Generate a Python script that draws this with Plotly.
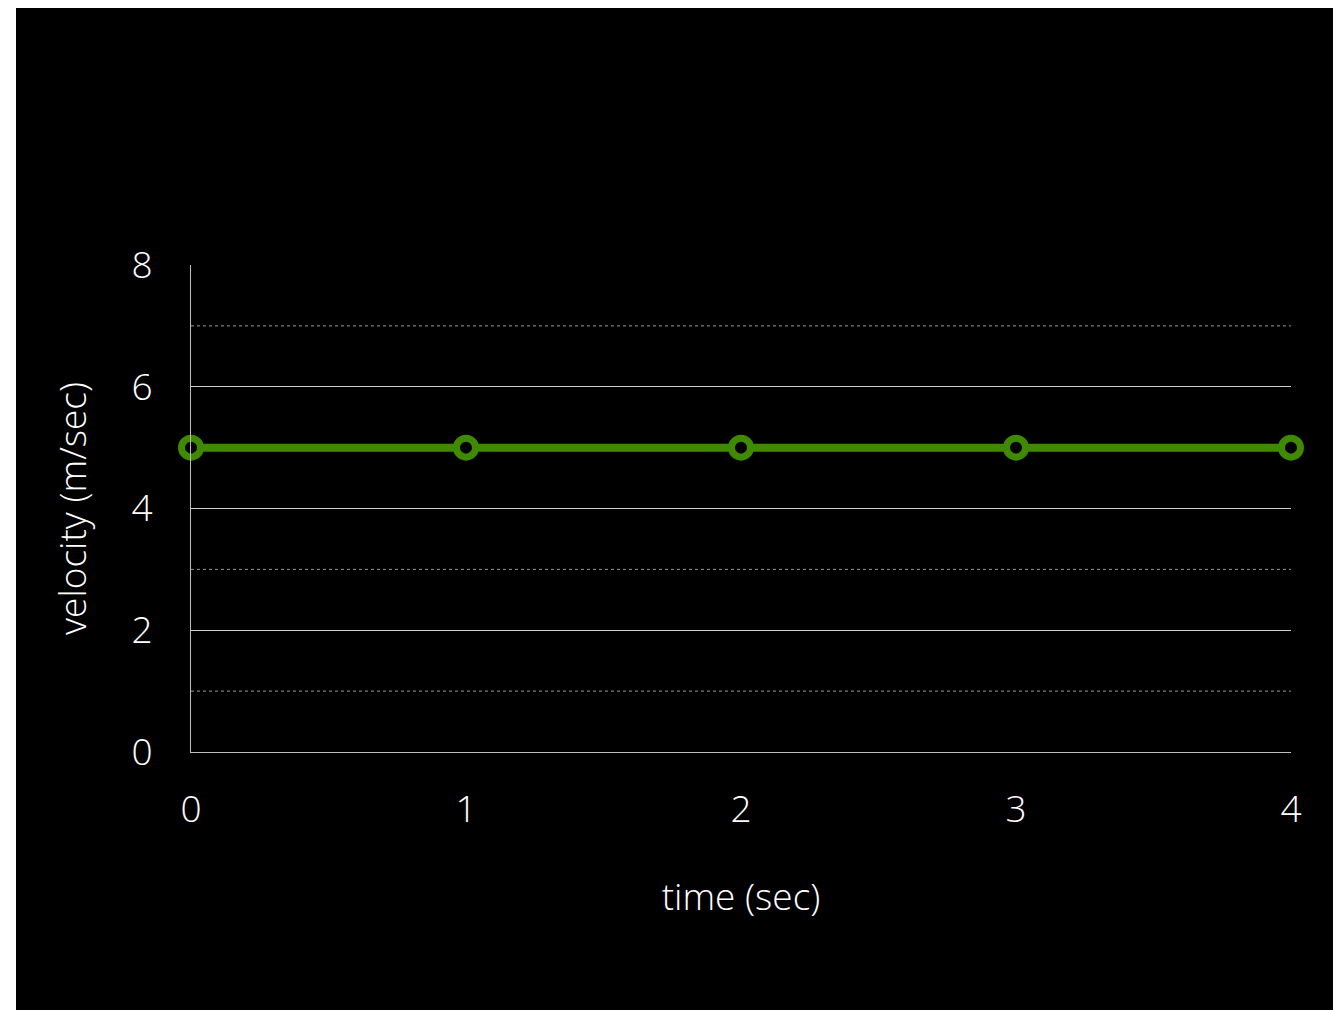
import plotly.graph_objects as go

time_sec = [0, 1, 2, 3, 4]
velocity = [5, 5, 5, 5, 5]
x_ticks = [0, 1, 2, 3, 4]
y_major = [0, 2, 4, 6, 8]
y_minor = [1, 3, 5, 7]

GREEN = "#3f8a00"
# page has an 8px body margin; figure sized to fit the window
W, H = 1333, 1002
L, R, T, B = 183, 50, 257, 258
pw = W - L - R
ph = H - T - B

fig = go.Figure()
fig.add_trace(go.Scatter(
    x=time_sec, y=velocity, mode="lines+markers",
    line=dict(color=GREEN, width=8),
    marker=dict(symbol="circle", size=19, color="black",
                line=dict(color=GREEN, width=7)),
    cliponaxis=False, showlegend=False,
))

font = dict(family="'Open Sans', 'Noto Sans', sans-serif", color="white", weight=300)
FS = 37

# dotted minor gridlines
for v in y_minor:
    fig.add_shape(type="line", xref="paper", yref="y", x0=0, x1=1, y0=v, y1=v,
                  line=dict(color="#9a9a9a", width=1, dash="dot"), layer="below")

# white frame strip on the left
fig.add_shape(type="rect", xref="paper", yref="paper",
              x0=-L / pw - 0.01, x1=(8 - L) / pw, y0=-B / ph - 0.01, y1=1 + T / ph + 0.01,
              fillcolor="white", line=dict(width=0), layer="below")

fig.update_layout(
    width=W, height=H,
    margin=dict(l=L, r=R, t=T, b=B),
    paper_bgcolor="black", plot_bgcolor="black",
    font=dict(size=FS, **font),
    xaxis=dict(
        range=[0, 4], tickvals=x_ticks, ticktext=[str(t) for t in x_ticks],
        showgrid=False, zeroline=False,
        showline=True, linecolor="#bdbdbd", linewidth=1,
        ticks="", ticklabelstandoff=25,
        tickfont=dict(size=FS, **font),
        title=dict(text="time (sec)", font=dict(size=FS, **font), standoff=51),
    ),
    yaxis=dict(
        range=[0, 8], tickvals=y_major, ticktext=[str(t) for t in y_major],
        showgrid=True, gridcolor="#d0d0d0", gridwidth=1, zeroline=False,
        showline=True, linecolor="#bdbdbd", linewidth=1,
        ticks="", ticklabelstandoff=30,
        tickfont=dict(size=FS, **font),
        title=dict(text="velocity (m/sec)", font=dict(size=FS, **font), standoff=33),
    ),
)

fig.write_html("out.html")
